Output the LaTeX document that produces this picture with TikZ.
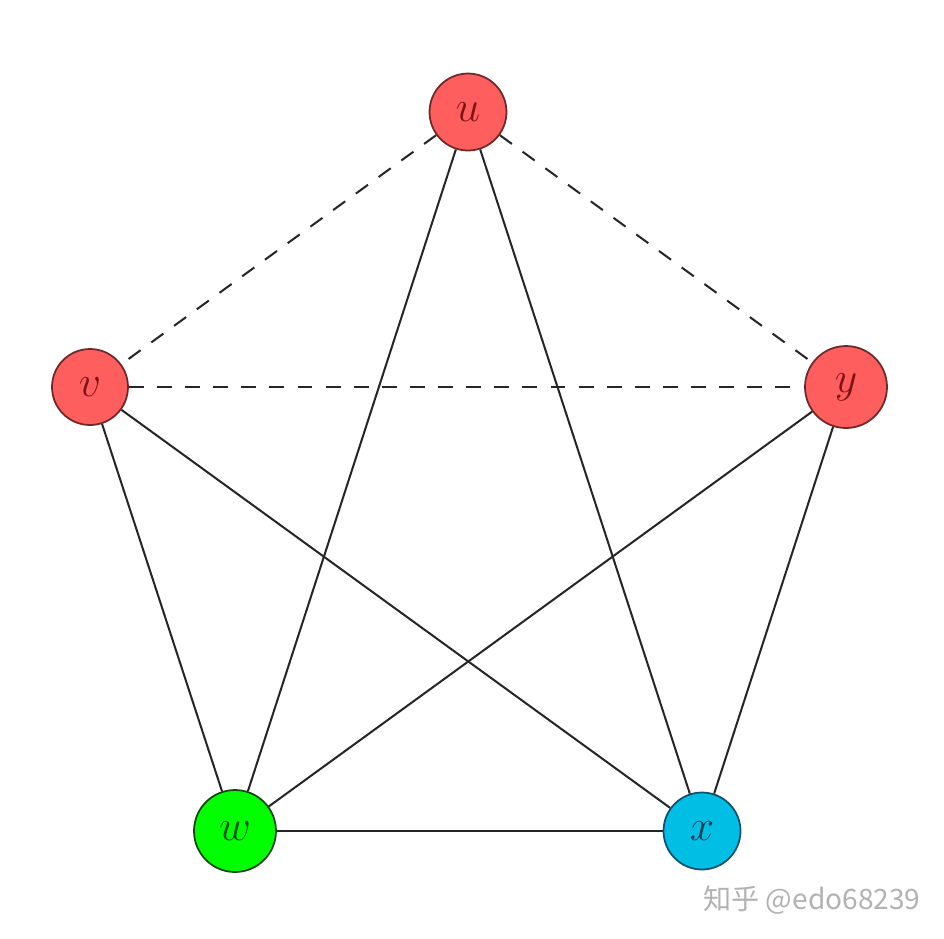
\documentclass[tikz,border=0pt]{standalone}
\usepackage{fontspec}
\newfontfamily\cjk{Noto Sans CJK SC}
\definecolor{rfill}{RGB}{255,94,94}
\definecolor{rdraw}{RGB}{110,40,40}
\definecolor{rtext}{RGB}{125,20,20}
\definecolor{gfill}{RGB}{0,255,0}
\definecolor{gdraw}{RGB}{20,70,20}
\definecolor{gtext}{RGB}{0,80,0}
\definecolor{cfill}{RGB}{0,190,228}
\definecolor{cdraw}{RGB}{20,80,110}
\definecolor{ctext}{RGB}{10,60,90}
\begin{document}
\begin{tikzpicture}[x=0.02cm,y=-0.02cm,
  vert/.style={circle,draw,line width=1pt,inner sep=0pt,font=\fontsize{27}{30}\selectfont},
  redv/.style={vert,fill=rfill,draw=rdraw,text=rtext},
  edge/.style={line width=1.15pt,black!85},
  dedge/.style={edge,dash pattern=on 8.5pt off 7.5pt}]
\useasboundingbox (0,0) rectangle (944,938);
\node[redv,minimum size=1.54cm] (u) at (468,112) {$u$};
\node[redv,minimum size=1.52cm] (v) at (90,387) {$v$};
\node[redv,minimum size=1.64cm] (y) at (846,387) {$y$};
\node[vert,fill=gfill,draw=gdraw,text=gtext,minimum size=1.64cm] (w) at (235,831) {$w$};
\node[vert,fill=cfill,draw=cdraw,text=ctext,minimum size=1.54cm] (x) at (702,831) {$x$};
\draw[dedge] (u) -- (v);
\draw[dedge] (u) -- (y);
\draw[dedge] (v) -- (y);
\draw[edge] (u) -- (w);
\draw[edge] (u) -- (x);
\draw[edge] (v) -- (w);
\draw[edge] (v) -- (x);
\draw[edge] (y) -- (w);
\draw[edge] (y) -- (x);
\draw[edge] (w) -- (x);
\node[anchor=west,inner sep=0pt,text=black!30,font=\cjk\fontsize{16}{20}\selectfont] (wm) at (703,900) {知乎 @edo68239};
\end{tikzpicture}
\end{document}
